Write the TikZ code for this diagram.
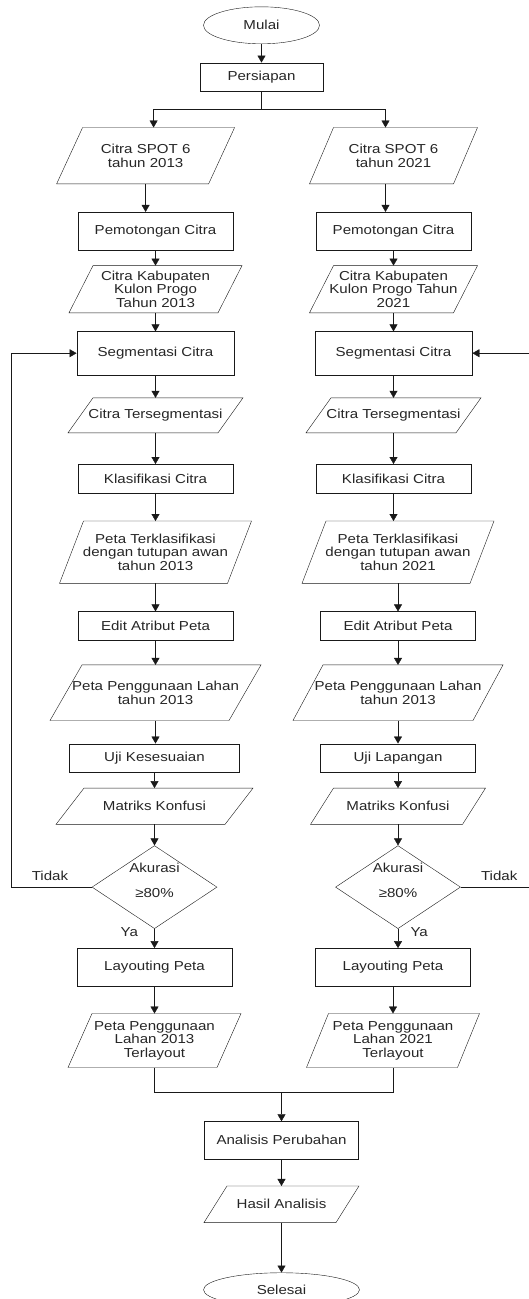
\documentclass[tikz,border=0pt]{standalone}
\usepackage{fontspec}
\setmainfont{Liberation Sans}[FakeStretch=1.16]
\usetikzlibrary{positioning, arrows.meta, shapes.geometric, calc}
\newcommand{\akurasi}{Akurasi\\[11.7pt]≥80\%}
\tikzset{
	node distance = 20pt,
	line width = 1.3pt,
	>={Triangle[width=8pt,length=7pt]},
	font = \fontsize{13}{13.6}\selectfont,
	every node/.style={text=black!85},
	process/.style={
		draw=black!90,
		rectangle,
		minimum width=155pt,
		minimum height=28.5pt,
		inner sep=2pt,
		align=center
	},
	io/.style={
		rectangle,
		outer sep=0pt,
		minimum height=36pt,
		inner sep=2pt,
		align=center
	},
	decision/.style={
		draw=black!90,
		diamond,
		minimum width=125pt,
		minimum height=83pt,
		inner sep=0pt
	},
	terminal/.style={
		draw=black!90,
		ellipse,
		minimum width=116pt,
		minimum height=37pt,
		inner sep=0pt
	},
	edge/.style={
		->,
		draw=black!90
	},
	link/.style={
		draw=black!90
	}
}

\begin{document}
\begin{tikzpicture}[x=1pt, y=1pt]
\useasboundingbox (0,0) rectangle (529,-1299);

\node[terminal] (mulai) at (261.5,-25.3) {Mulai};
\node[process, below=18.6pt of mulai, minimum width=123pt] (persiapan) {Persiapan};
\coordinate[below=17.5pt of persiapan] (split);

% kolom 2013
\node[io, minimum width=178pt, minimum height=56.4pt] (spot13) at (145.6,-155.7) {Citra SPOT 6\\tahun 2013};
\node[process, below=28pt of spot13, xshift=9.9pt, minimum height=38.4pt] (potong13) {Pemotongan Citra};
\node[io, below=14.9pt of potong13, minimum width=173pt, minimum height=47.2pt] (kab13) {Citra Kabupaten\\Kulon Progo\\Tahun 2013};
\node[process, below=18.6pt of kab13, minimum width=157.5pt, minimum height=43.2pt] (seg13) {Segmentasi Citra};
\node[io, below=22.8pt of seg13, minimum width=175pt, minimum height=35pt] (tseg13) {Citra Tersegmentasi};
\node[process, below=31.2pt of tseg13] (klas13) {Klasifikasi Citra};
\node[io, below=28.1pt of klas13, minimum width=192pt, minimum height=62.4pt] (terk13) {Peta Terklasifikasi\\dengan tutupan awan\\tahun 2013};
\node[process, below=28pt of terk13] (edit13) {Edit Atribut Peta};
\node[io, below=24.6pt of edit13, minimum width=211pt, minimum height=55.6pt] (guna13) {Peta Penggunaan Lahan\\tahun 2013};
\node[process, below=23pt of guna13, xshift=-1pt, minimum width=170pt] (uji13) {Uji Kesesuaian};
\node[io, below=15.7pt of uji13, minimum width=197pt, minimum height=36.3pt] (mat13) {Matriks Konfusi};
\node[decision, below=21pt of mat13, label={[yshift=6.5pt, align=center]center:\akurasi}] (acc13) {};
\node[process, below=19.3pt of acc13, minimum height=38pt] (lay13) {Layouting Peta};
\node[io, below=27pt of lay13, minimum width=173pt, minimum height=54pt] (tl13) {Peta Penggunaan\\Lahan 2013\\Terlayout};

% kolom 2021
\node[io, minimum width=168pt, minimum height=56.4pt] (spot21) at (393.5,-155.7) {Citra SPOT 6\\tahun 2021};
\node[process, below=28pt of spot21, minimum height=38.4pt] (potong21) {Pemotongan Citra};
\node[io, below=14.9pt of potong21, minimum width=168pt, minimum height=47.2pt] (kab21) {Citra Kabupaten\\Kulon Progo Tahun\\2021};
\node[process, below=18.6pt of kab21, minimum width=157.5pt, minimum height=43.2pt] (seg21) {Segmentasi Citra};
\node[io, below=22.8pt of seg21, minimum width=175pt, minimum height=35pt] (tseg21) {Citra Tersegmentasi};
\node[process, below=31.2pt of tseg21] (klas21) {Klasifikasi Citra};
\node[io, below=28.1pt of klas21, xshift=4.5pt, minimum width=192pt, minimum height=62.4pt] (terk21) {Peta Terklasifikasi\\dengan tutupan awan\\tahun 2021};
\node[process, below=28pt of terk21] (edit21) {Edit Atribut Peta};
\node[io, below=24.6pt of edit21, minimum width=210pt, minimum height=55.6pt] (guna21) {Peta Penggunaan Lahan\\tahun 2013};
\node[process, below=23pt of guna21] (uji21) {Uji Lapangan};
\node[io, below=15.7pt of uji21, minimum width=175pt, minimum height=36.3pt] (mat21) {Matriks Konfusi};
\node[decision, below=21pt of mat21, label={[yshift=6.5pt, align=center]center:\akurasi}] (acc21) {};
\node[process, below=19.3pt of acc21, xshift=-5pt, minimum height=38pt] (lay21) {Layouting Peta};
\node[io, below=27pt of lay21, minimum width=173pt, minimum height=54pt] (tl21) {Peta Penggunaan\\Lahan 2021\\Terlayout};

% gabungan
\node[process, minimum width=154pt, minimum height=37.5pt] (analisis) at (281.5,-1140.2) {Analisis Perubahan};
\coordinate[above=28.7pt of analisis] (merge);
\node[io, below=26.8pt of analisis, minimum width=155pt, minimum height=36.6pt] (hasil) {Hasil Analisis};
\node[terminal, below=50pt of hasil, minimum width=156pt, minimum height=34pt] (selesai) {Selesai};

\coordinate (backL) at ([xshift=-80.4pt]acc13.west);
\coordinate (backR) at ([xshift=70pt]acc21.east);

% jajaran genjang
\foreach \n/\s in {spot13/26, spot21/24, kab13/24, kab21/24, tseg13/25, tseg21/25, terk13/24, terk21/24, guna13/32, guna21/30, mat13/28, mat21/23, tl13/24, tl21/22, hasil/23}
	\draw[link] ($(\n.north west)+(\s,0)$) -- (\n.north east) -- ($(\n.south east)-(\s,0)$) -- (\n.south west) -- cycle;

\draw[edge] (mulai) -- (persiapan);
\draw[link] (persiapan) -- (split);
\draw[edge] (split) -| ([xshift=8pt]spot13.north);
\draw[edge] (split) -| ([xshift=-8pt]spot21.north);
\draw[edge] (spot13) -- (spot13 |- potong13.north);
\draw[edge] ([xshift=-8pt]spot21.south) -- ([xshift=-8pt]potong21.north);

\foreach \a/\b in {potong13/kab13, kab13/seg13, seg13/tseg13, tseg13/klas13, klas13/terk13, terk13/edit13, edit13/guna13, guna13/uji13, uji13/mat13, mat13/acc13, lay13/tl13, potong21/kab21, kab21/seg21, seg21/tseg21, tseg21/klas21, klas21/terk21, terk21/edit21, edit21/guna21, guna21/uji21, uji21/mat21, mat21/acc21, lay21/tl21, analisis/hasil, hasil/selesai}
	\draw[edge] (\a) -- (\a |- \b.north);

\draw[edge] (acc13) -- node[pos=.18, left=13pt] {Ya} (acc13 |- lay13.north);
\draw[edge] (acc21) -- node[pos=.18, right=9pt] {Ya} (acc21 |- lay21.north);

\draw[edge] (acc13.west) -- node[pos=.52, above=3pt] {Tidak} (backL) |- (seg13.west);
\draw[edge] (acc21.east) -- node[pos=.55, above=3pt] {Tidak} (backR) |- (seg21.east);

\draw[link] (tl13) |- (merge) -| (tl21);
\draw[edge] (merge) -- (analisis);
\end{tikzpicture}
\end{document}
